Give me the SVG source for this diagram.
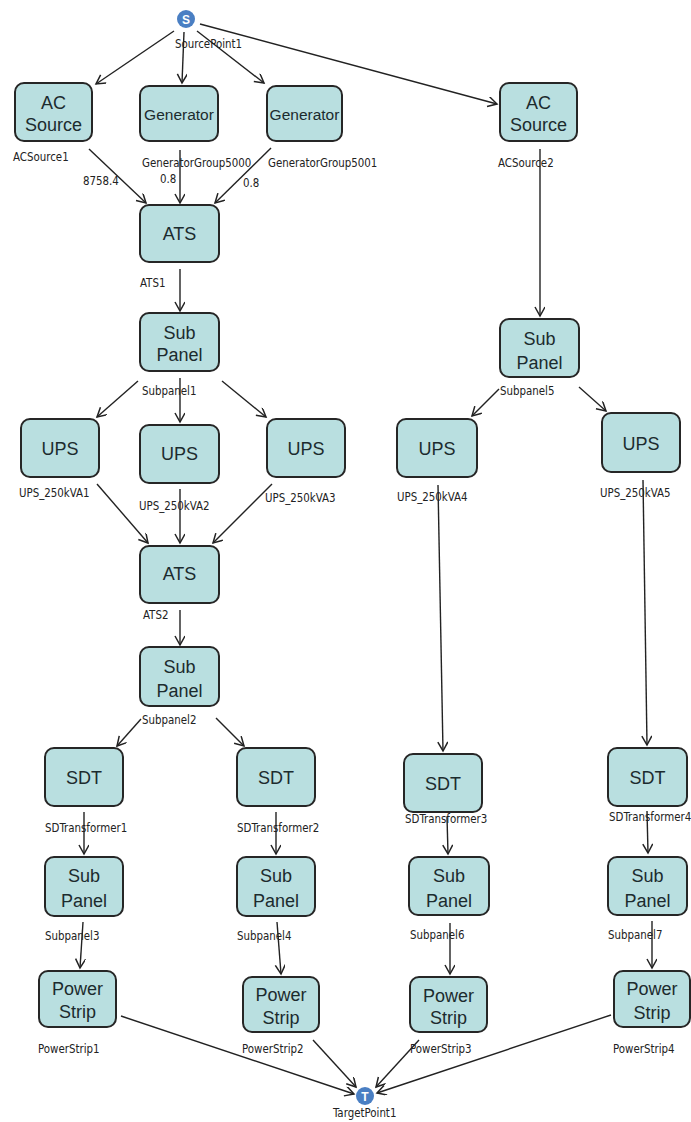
<svg xmlns="http://www.w3.org/2000/svg" width="691" height="1122" viewBox="0 0 691 1122">
<style>
.box{fill:#b9dfe0;stroke:#262626;stroke-width:2}
.bt{font-family:"Liberation Sans",Arial,sans-serif;font-size:18px;fill:#1c2b2e;text-anchor:middle}
.gt{font-family:"Liberation Sans",Arial,sans-serif;font-size:15.5px;fill:#1c2b2e;text-anchor:middle}
.lb{font-family:"DejaVu Sans Condensed","Liberation Sans",sans-serif;font-size:11.4px;fill:#222}
.e{stroke:#222;stroke-width:1.4;fill:none;marker-end:url(#ah)}
.pt{fill:#4a7fc3}
.pl{font-family:"Liberation Sans",Arial,sans-serif;font-size:12px;font-weight:bold;fill:#fff;text-anchor:middle}
</style>
<defs>
<marker id="ah" markerWidth="12" markerHeight="12" refX="10" refY="5" orient="auto" markerUnits="userSpaceOnUse">
<path d="M1,0 L10,5 L1,10" fill="none" stroke="#222" stroke-width="1.5"/>
</marker>
</defs>
<rect width="691" height="1122" fill="#fff"/>
<g id="connectors">
<line class="e" x1="174" y1="31" x2="96" y2="84"/>
<line class="e" x1="184" y1="32" x2="182" y2="83"/>
<line class="e" x1="197" y1="31" x2="264" y2="83"/>
<line class="e" x1="200" y1="24" x2="497" y2="104"/>
<line class="e" x1="89" y1="149" x2="146" y2="203"/>
<line class="e" x1="180" y1="150" x2="180" y2="203"/>
<line class="e" x1="271" y1="148" x2="215" y2="203"/>
<line class="e" x1="180" y1="269" x2="180" y2="311"/>
<line class="e" x1="138" y1="381" x2="97" y2="417"/>
<line class="e" x1="180" y1="378" x2="180" y2="422"/>
<line class="e" x1="222" y1="381" x2="266" y2="417"/>
<line class="e" x1="97" y1="484" x2="148" y2="543"/>
<line class="e" x1="180" y1="489" x2="180" y2="543"/>
<line class="e" x1="272" y1="484" x2="213" y2="543"/>
<line class="e" x1="180" y1="610" x2="180" y2="645"/>
<line class="e" x1="141" y1="719" x2="117" y2="746"/>
<line class="e" x1="216" y1="718" x2="244" y2="746"/>
<line class="e" x1="84" y1="812" x2="84" y2="854"/>
<line class="e" x1="276" y1="812" x2="276" y2="854"/>
<line class="e" x1="83" y1="922" x2="80" y2="968"/>
<line class="e" x1="277" y1="922" x2="281" y2="974"/>
<line class="e" x1="121" y1="1016" x2="354" y2="1094"/>
<line class="e" x1="313" y1="1040" x2="356" y2="1087"/>
<line class="e" x1="540" y1="149" x2="540" y2="316"/>
<line class="e" x1="499" y1="389" x2="472" y2="416"/>
<line class="e" x1="579" y1="387" x2="606" y2="411"/>
<line class="e" x1="438" y1="485" x2="443" y2="751"/>
<line class="e" x1="643" y1="480" x2="647" y2="745"/>
<line class="e" x1="447" y1="817" x2="448" y2="854"/>
<line class="e" x1="647" y1="811" x2="648" y2="853"/>
<line class="e" x1="450" y1="923" x2="450" y2="974"/>
<line class="e" x1="652" y1="921" x2="652" y2="968"/>
<line class="e" x1="419" y1="1040" x2="376" y2="1087"/>
<line class="e" x1="611" y1="1015" x2="377" y2="1093"/>
<text class="lb" x="83" y="185">8758.4</text>
<text class="lb" x="160" y="183">0.8</text>
<text class="lb" x="243" y="187">0.8</text>
</g>
<g id="SourcePoint1"><circle class="pt" cx="186" cy="19" r="9"/><text class="pl" x="186" y="23.5">S</text><text class="lb" x="175" y="48">SourcePoint1</text></g>
<g id="ACSource1"><rect class="box" x="15" y="83" width="77" height="58" rx="9"/><text class="bt" x="53.5" y="109">AC</text><text class="bt" x="53.5" y="131">Source</text><text class="lb" x="13" y="161">ACSource1</text></g>
<g id="GeneratorGroup5000"><rect class="box" x="140" y="86" width="78" height="55" rx="9"/><text class="gt" x="179" y="119.5">Generator</text><text class="lb" x="142" y="167">GeneratorGroup5000</text></g>
<g id="GeneratorGroup5001"><rect class="box" x="267" y="86" width="75" height="55" rx="9"/><text class="gt" x="304.5" y="119.5">Generator</text><text class="lb" x="268" y="167">GeneratorGroup5001</text></g>
<g id="ACSource2"><rect class="box" x="500" y="83" width="77" height="58" rx="9"/><text class="bt" x="538.5" y="109">AC</text><text class="bt" x="538.5" y="131">Source</text><text class="lb" x="498" y="167">ACSource2</text></g>
<g id="ATS1"><rect class="box" x="140" y="205" width="79" height="57" rx="9"/><text class="bt" x="179.5" y="239.5">ATS</text><text class="lb" x="140" y="287">ATS1</text></g>
<g id="Subpanel1"><rect class="box" x="140" y="313" width="79" height="58" rx="9"/><text class="bt" x="179.5" y="338.5">Sub</text><text class="bt" x="179.5" y="360.5">Panel</text><text class="lb" x="142" y="395">Subpanel1</text></g>
<g id="UPS_250kVA1"><rect class="box" x="21" y="419" width="78" height="58" rx="9"/><text class="bt" x="60" y="454.5">UPS</text><text class="lb" x="19" y="497">UPS_250kVA1</text></g>
<g id="UPS_250kVA2"><rect class="box" x="140" y="425" width="79" height="58" rx="9"/><text class="bt" x="179.5" y="459.5">UPS</text><text class="lb" x="139" y="510">UPS_250kVA2</text></g>
<g id="UPS_250kVA3"><rect class="box" x="267" y="419" width="78" height="58" rx="9"/><text class="bt" x="306" y="454.5">UPS</text><text class="lb" x="265" y="502">UPS_250kVA3</text></g>
<g id="ATS2"><rect class="box" x="140" y="546" width="79" height="57" rx="9"/><text class="bt" x="179.5" y="579.5">ATS</text><text class="lb" x="143" y="619">ATS2</text></g>
<g id="Subpanel2"><rect class="box" x="140" y="647" width="79" height="59" rx="9"/><text class="bt" x="179.5" y="672.5">Sub</text><text class="bt" x="179.5" y="696.5">Panel</text><text class="lb" x="142" y="724">Subpanel2</text></g>
<g id="SDTransformer1"><rect class="box" x="45" y="748" width="78" height="58" rx="9"/><text class="bt" x="84" y="783.5">SDT</text><text class="lb" x="45" y="832">SDTransformer1</text></g>
<g id="SDTransformer2"><rect class="box" x="237" y="748" width="78" height="58" rx="9"/><text class="bt" x="276" y="783.5">SDT</text><text class="lb" x="237" y="832">SDTransformer2</text></g>
<g id="Subpanel3"><rect class="box" x="45" y="857" width="78" height="59" rx="9"/><text class="bt" x="84" y="881.5">Sub</text><text class="bt" x="84" y="906.5">Panel</text><text class="lb" x="45" y="940">Subpanel3</text></g>
<g id="Subpanel4"><rect class="box" x="237" y="857" width="78" height="59" rx="9"/><text class="bt" x="276" y="881.5">Sub</text><text class="bt" x="276" y="906.5">Panel</text><text class="lb" x="237" y="940">Subpanel4</text></g>
<g id="PowerStrip1"><rect class="box" x="39" y="971" width="77" height="56" rx="9"/><text class="bt" x="77.5" y="994.5">Power</text><text class="bt" x="77.5" y="1017.5">Strip</text><text class="lb" x="38" y="1053">PowerStrip1</text></g>
<g id="PowerStrip2"><rect class="box" x="243" y="977" width="76" height="55" rx="9"/><text class="bt" x="281" y="1000.5">Power</text><text class="bt" x="281" y="1023.5">Strip</text><text class="lb" x="242" y="1053">PowerStrip2</text></g>
<g id="Subpanel5"><rect class="box" x="500" y="319" width="79" height="58" rx="9"/><text class="bt" x="539.5" y="344.5">Sub</text><text class="bt" x="539.5" y="368.5">Panel</text><text class="lb" x="500" y="395">Subpanel5</text></g>
<g id="UPS_250kVA4"><rect class="box" x="397" y="419" width="80" height="58" rx="9"/><text class="bt" x="437" y="454.5">UPS</text><text class="lb" x="397" y="501">UPS_250kVA4</text></g>
<g id="UPS_250kVA5"><rect class="box" x="602" y="413" width="78" height="59" rx="9"/><text class="bt" x="641" y="449.5">UPS</text><text class="lb" x="600" y="497">UPS_250kVA5</text></g>
<g id="SDTransformer3"><rect class="box" x="404" y="754" width="78" height="58" rx="9"/><text class="bt" x="443" y="789.5">SDT</text><text class="lb" x="405" y="823">SDTransformer3</text></g>
<g id="SDTransformer4"><rect class="box" x="608" y="748" width="79" height="58" rx="9"/><text class="bt" x="647.5" y="783.5">SDT</text><text class="lb" x="609" y="821">SDTransformer4</text></g>
<g id="Subpanel6"><rect class="box" x="409" y="857" width="80" height="58" rx="9"/><text class="bt" x="449" y="881.5">Sub</text><text class="bt" x="449" y="906.5">Panel</text><text class="lb" x="410" y="939">Subpanel6</text></g>
<g id="Subpanel7"><rect class="box" x="608" y="857" width="79" height="58" rx="9"/><text class="bt" x="647.5" y="881.5">Sub</text><text class="bt" x="647.5" y="906.5">Panel</text><text class="lb" x="608" y="939">Subpanel7</text></g>
<g id="PowerStrip3"><rect class="box" x="410" y="977" width="77" height="55" rx="9"/><text class="bt" x="448.5" y="1001.5">Power</text><text class="bt" x="448.5" y="1023.5">Strip</text><text class="lb" x="410" y="1053">PowerStrip3</text></g>
<g id="PowerStrip4"><rect class="box" x="614" y="971" width="76" height="56" rx="9"/><text class="bt" x="652" y="994.5">Power</text><text class="bt" x="652" y="1018.5">Strip</text><text class="lb" x="613" y="1053">PowerStrip4</text></g>
<g id="TargetPoint1"><circle class="pt" cx="365" cy="1096" r="9"/><text class="pl" x="365" y="1100.5">T</text><text class="lb" x="333" y="1117">TargetPoint1</text></g>
</svg>
